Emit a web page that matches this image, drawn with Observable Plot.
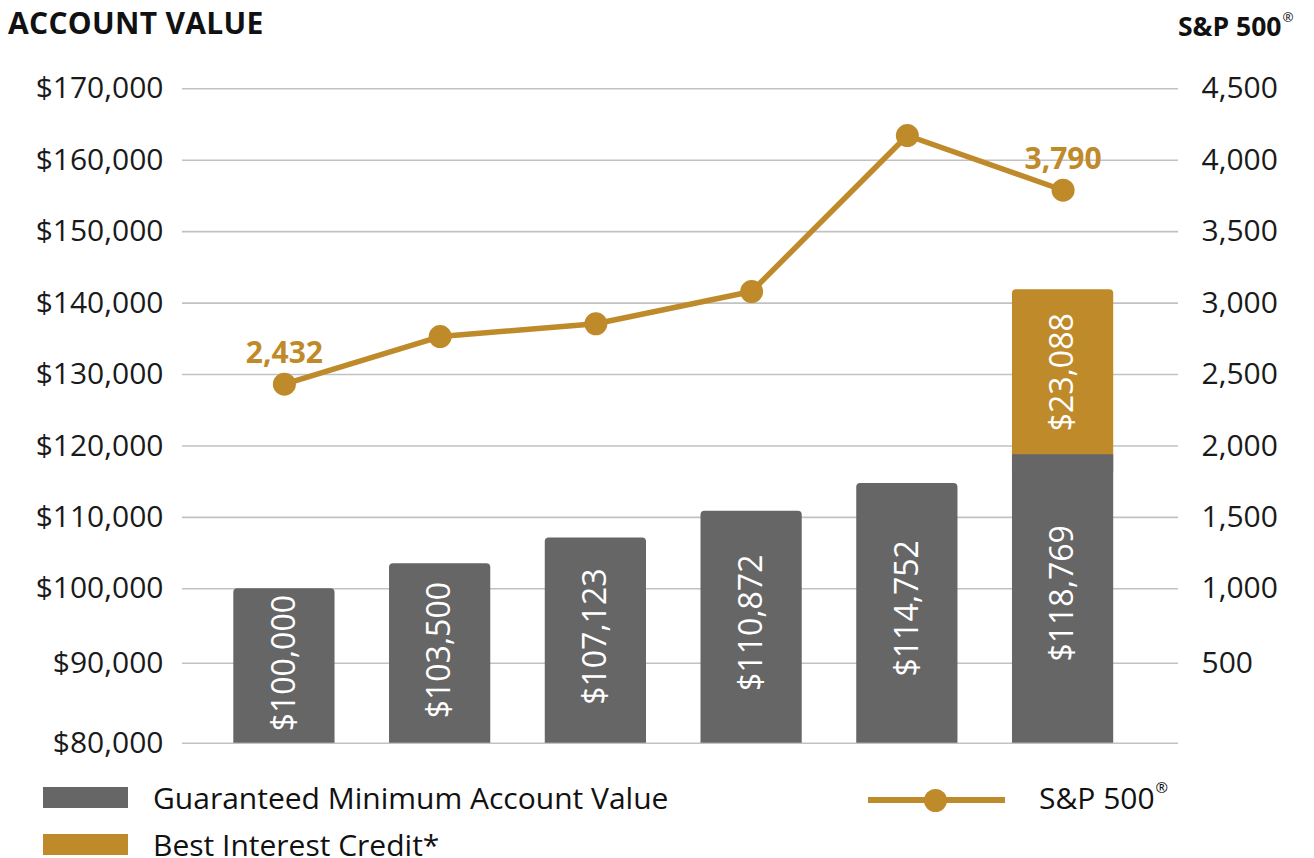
<!DOCTYPE html>
<html>
<head>
<meta charset="utf-8">
<script src="https://cdn.jsdelivr.net/npm/d3@7"></script>
<script src="https://cdn.jsdelivr.net/npm/@observablehq/plot@0.6"></script>
<style>
  html, body { margin: 0; padding: 0; background: #fff; }
  #wrap { position: relative; width: 1314px; height: 858px; overflow: hidden; font-family: "Open Sans", sans-serif; color: #111; }
  .abs { position: absolute; line-height: 1; white-space: nowrap; }
  #chart { position: absolute; left: 0; top: 50px; }
  sup.r { font-size: 0.5em; vertical-align: 0; position: relative; top: -1.05em; margin-left: 1px; font-weight: 400; }
</style>
</head>
<body>
<div id="wrap">
  <div class="abs" style="left:8px; top:8.4px; font-size:30px; font-weight:700; letter-spacing:0.3px;">ACCOUNT VALUE</div>
  <div class="abs" style="left:1178px; top:12.5px; font-size:26.5px; font-weight:700;">S&amp;P 500<sup class="r">®</sup></div>
  <div id="chart"></div>
  <div class="abs" style="left:43px; top:787px; width:85px; height:21px; background:#666666;"></div>
  <div class="abs" style="left:153px; top:783px; font-size:30px;">Guaranteed Minimum Account Value</div>
  <div class="abs" style="left:43px; top:834px; width:85px; height:21px; background:#BF8A2A;"></div>
  <div class="abs" style="left:153px; top:831px; font-size:30px; line-height:27px;">Best Interest Credit*</div>
  <div class="abs" style="left:868px; top:797px; width:137px; height:6px; background:#BF8A2A;"></div>
  <div class="abs" style="left:923.5px; top:788.5px; width:23px; height:23px; border-radius:50%; background:#BF8A2A;"></div>
  <div class="abs" style="left:1039px; top:783px; font-size:30px;">S&amp;P 500<sup class="r">®</sup></div>
</div>
<script>
// ---- data ----
const years = ["Year 0", "Year 1", "Year 2", "Year 3", "Year 4", "Year 5"];
const guaranteedMin = [100000, 103500, 107123, 110872, 114752, 118769];
const bestInterestCredit = [0, 0, 0, 0, 0, 23088];
const sp500 = [2432, 2766, 2855, 3081, 4173, 3790];
const sp500Labeled = [true, false, false, false, false, true];
const leftTicks = [80000, 90000, 100000, 110000, 120000, 130000, 140000, 150000, 160000, 170000];
const rightTicks = [500, 1000, 1500, 2000, 2500, 3000, 3500, 4000, 4500];

// ---- styling ----
const GRAY = "#666666";
const GOLD = "#BF8A2A";
const BASE = 80000;
// right (S&P) axis mapped into the account-value scale: 0 -> 80,000 ; 4,500 -> 170,000
const toLeft = v => BASE + v * 20;
const fmt = d3.format(",");
// the reference's value axis is slightly stretched in its lowest two bands
const axisWarp = d3.scaleLinear().domain([80000, 90000, 100000, 170000]).range([0, 80, 154.4, 654.4]);

// bar segments
const segs = [];
years.forEach((yr, i) => {
  const top = bestInterestCredit[i] === 0;
  segs.push({year: yr, lo: BASE, hi: guaranteedMin[i], value: guaranteedMin[i], kind: "gm", top});
  if (bestInterestCredit[i] > 0) {
    segs.push({year: yr, lo: guaranteedMin[i], hi: guaranteedMin[i] + bestInterestCredit[i], value: bestInterestCredit[i], kind: "bic", top: true});
  }
});
const spRows = years.map((yr, i) => ({year: yr, sp: sp500[i], labeled: sp500Labeled[i]}));

const gm = segs.filter(d => d.kind === "gm");
const bic = segs.filter(d => d.kind === "bic");

const chart = Plot.plot({
  width: 1314,
  height: 720,
  marginLeft: 182,
  marginRight: 136,
  marginTop: 38.3,
  marginBottom: 27.3,
  style: {fontFamily: "'Open Sans', sans-serif", fontSize: "30px", color: "#1a1a1a", background: "transparent"},
  x: {domain: years, axis: null, range: [233.3, 1113.2], paddingInner: 0.35, paddingOuter: 0, round: false},
  y: {transform: axisWarp, axis: null, domain: [0, 654.4]},
  marks: [
    Plot.ruleY(leftTicks, {stroke: "#c2c2c2", strokeWidth: 1.6}),
    // credit segment: rounded top, its lower end tucked under the gray segment
    Plot.barY(bic, {x: "year", y1: d => d.lo - 3000, y2: "hi", fill: GOLD, rx: 4}),
    // gray segments that are the top of their bar: rounded, bottom corners clipped away below the frame
    Plot.barY(gm.filter(d => d.top), {x: "year", y1: BASE - 2000, y2: "hi", fill: GRAY, rx: 4, clip: "frame"}),
    // gray segments under a credit segment: square
    Plot.barY(gm.filter(d => !d.top), {x: "year", y1: "lo", y2: "hi", fill: GRAY}),
    Plot.text(segs, {x: "year", y: d => (d.lo + d.hi) / 2, text: d => "$" + fmt(d.value), rotate: -90, fill: "white", fontSize: 32, textAnchor: "middle", lineAnchor: "middle"}),
    Plot.axisY(leftTicks, {anchor: "left", tickSize: 0, tickPadding: 19, tickFormat: d => "$" + fmt(d), fontSize: 30, label: null}),
    Plot.axisY(rightTicks.map(toLeft), {anchor: "right", tickSize: 0, tickPadding: 23, tickFormat: d => fmt((d - BASE) / 20), fontSize: 30, label: null}),
    Plot.line(spRows, {x: "year", y: d => toLeft(d.sp), stroke: GOLD, strokeWidth: 5.5}),
    Plot.dot(spRows, {x: "year", y: d => toLeft(d.sp), r: 11.5, fill: GOLD, stroke: "none"}),
    Plot.text(spRows.filter(d => d.labeled), {x: "year", y: d => toLeft(d.sp), text: d => fmt(d.sp), dy: -31, fill: GOLD, fontSize: 30, fontWeight: 700, lineAnchor: "middle"})
  ]
});
document.getElementById("chart").appendChild(chart);
</script>
</body>
</html>
